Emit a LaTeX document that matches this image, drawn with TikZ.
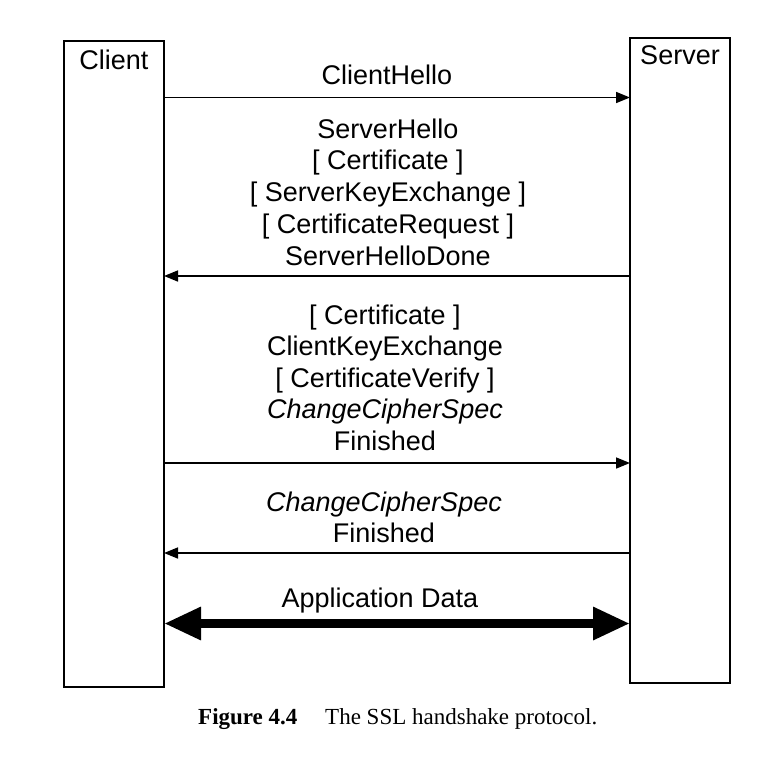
\documentclass[tikz,border=0pt]{standalone}
\usepackage{fontspec}
\setmainfont{Liberation Sans}
\newfontfamily\capfont{Liberation Serif}
\usetikzlibrary{arrows.meta}
\begin{document}
\begin{tikzpicture}[x=1pt,y=-1pt,
  party/.style={draw,line width=2pt,inner sep=0pt,outer sep=0pt,minimum width=100pt},
  lbl/.style={anchor=base,inner sep=0pt,font=\fontsize{27}{31}\selectfont},
  msg/.style={line width=1.6pt,-{Triangle[length=14pt,width=11pt]}},
  bigmsg/.style={line width=9pt,{Triangle[length=37pt,width=31pt]}-{Triangle[length=37pt,width=31pt]}},
  captionlbl/.style={anchor=base west,inner sep=0pt,font=\capfont\fontsize{23}{27}\selectfont}]
\useasboundingbox (0,0) rectangle (782,761);
\node[party,minimum height=646pt] (client) at (114,364) {};
\node[party,minimum height=645pt] (server) at (680,360.5) {};
\node[lbl] (clientlbl) at (114,69) {Client};
\node[lbl] (serverlbl) at (680,64) {Server};
% message 1
\node[lbl] (m1) at (387,84) {ClientHello};
\coordinate (y1) at (0,97.5);
\draw[msg] (client.east |- y1) -- (server.west |- y1);
% message 2
\node[lbl] (m2a) at (388,138) {ServerHello};
\node[lbl] (m2b) at (388,169.75) {[ Certificate ]};
\node[lbl] (m2c) at (388,201.5) {[ ServerKeyExchange ]};
\node[lbl] (m2d) at (388,233.25) {[ CertificateRequest ]};
\node[lbl] (m2e) at (388,265) {ServerHelloDone};
\coordinate (y2) at (0,276);
\draw[msg] (server.west |- y2) -- (client.east |- y2);
% message 3
\node[lbl] (m3a) at (385,324) {[ Certificate ]};
\node[lbl] (m3b) at (385,355.5) {ClientKeyExchange};
\node[lbl] (m3c) at (385,387) {[ CertificateVerify ]};
\node[lbl] (m3d) at (385,418.5) {\itshape ChangeCipherSpec};
\node[lbl] (m3e) at (385,450) {Finished};
\coordinate (y3) at (0,463);
\draw[msg] (client.east |- y3) -- (server.west |- y3);
% message 4
\node[lbl] (m4a) at (384,511) {\itshape ChangeCipherSpec};
\node[lbl] (m4b) at (384,542) {Finished};
\coordinate (y4) at (0,553);
\draw[msg] (server.west |- y4) -- (client.east |- y4);
% application data
\node[lbl] (m5) at (380,607) {Application Data};
\coordinate (y5) at (0,623.5);
\draw[bigmsg] (client.east |- y5) -- (server.west |- y5);
% caption
\node[captionlbl] (capnum) at (198,724.5) {\bfseries Figure 4.4};
\node[captionlbl] (captext) at (325,724.5) {The SSL handshake protocol.};
\end{tikzpicture}
\end{document}
